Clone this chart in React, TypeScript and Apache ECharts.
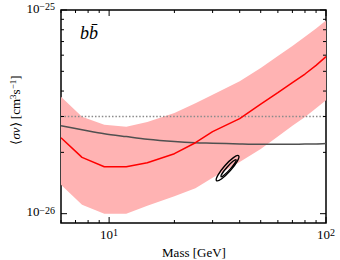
import React, { useEffect, useRef } from "react";
import * as echarts from "echarts";

// ---- data ----
const massGeV = [6, 7.5, 9.5, 12, 15, 20, 25, 30, 40, 50, 60, 70, 80, 90, 100];
const limitLine = [2.36e-26, 1.89e-26, 1.7e-26, 1.7e-26, 1.78e-26, 1.97e-26, 2.23e-26, 2.53e-26, 2.93e-26, 3.45e-26, 3.93e-26, 4.4e-26, 4.85e-26, 5.35e-26, 5.9e-26];
const bandUpper = [3.75e-26, 2.99e-26, 2.73e-26, 2.67e-26, 2.82e-26, 3.12e-26, 3.48e-26, 3.84e-26, 4.47e-26, 5.19e-26, 5.94e-26, 6.66e-26, 7.38e-26, 8.12e-26, 8.88e-26];
const bandLower = [1.388e-26, 1.107e-26, 1.0e-26, 1.0e-26, 1.095e-26, 1.217e-26, 1.334e-26, 1.5e-26, 1.794e-26, 2.078e-26, 2.396e-26, 2.7e-26, 2.98e-26, 3.29e-26, 3.6e-26];
const grayCurve = [2.7e-26, 2.585e-26, 2.47e-26, 2.39e-26, 2.32e-26, 2.26e-26, 2.23e-26, 2.22e-26, 2.2e-26, 2.19e-26, 2.19e-26, 2.19e-26, 2.2e-26, 2.2e-26, 2.21e-26];
const thermalRelic = 3e-26;

// contour ellipses: tips of the major axis (outer, inner)
const contourTipLow = [[31.28, 1.452e-26], [32.83, 1.52e-26]];
const contourTipHigh = [[39.55, 1.926e-26], [38.5, 1.841e-26]];
const contourAspect = [0.22, 0.16];

const xMajorTicks = [10, 100];
const xMinorTicks = [6, 7, 8, 9, 20, 30, 40, 50, 60, 70, 80, 90];
const yMajorTicks = [1e-26, 1e-25];
const yMinorTicks = [2e-26, 3e-26, 4e-26, 5e-26, 6e-26, 7e-26, 8e-26, 9e-26];
const xLabelValues = [10, 100];
const xLabelExps = ["1", "2"];
const yLabelValues = [1e-26, 1e-25];
const yLabelExps = ["\u221226", "\u221225"];

const X_MIN = 6;
const X_MAX = 100;
const Y_MIN = 9e-27;
const Y_MAX = 1e-25;

const SERIF = "Liberation Serif";

const richPow = {
  b: { fontSize: 13, fontFamily: SERIF, lineHeight: 13, verticalAlign: "bottom", color: "#000" },
  e: { fontSize: 10, fontFamily: SERIF, lineHeight: 10, verticalAlign: "top", padding: [0, 0, 7, 0], color: "#000" },
};

export default function App() {
  const ref = useRef<HTMLDivElement>(null);

  useEffect(() => {
    const chart = echarts.init(ref.current as HTMLDivElement, null, { renderer: "svg" });

    const tickSeries = (vals: number[], major: boolean, axis: "x" | "y") => ({
      type: "custom",
      silent: true,
      z: 6,
      data: vals.map((v) => (axis === "x" ? [v, Y_MIN] : [X_MIN, v])),
      renderItem: (params: any, api: any) => {
        const len = major ? 6 : 3;
        const st = { stroke: "#000", lineWidth: 1 };
        if (axis === "x") {
          const v = api.value(0);
          const b = api.coord([v, Y_MIN]);
          const t = api.coord([v, Y_MAX]);
          return {
            type: "group",
            children: [
              { type: "line", shape: { x1: b[0], y1: b[1], x2: b[0], y2: b[1] - len }, style: st },
              { type: "line", shape: { x1: t[0], y1: t[1], x2: t[0], y2: t[1] + len }, style: st },
            ],
          };
        }
        const v = api.value(1);
        const l = api.coord([X_MIN, v]);
        const r = api.coord([X_MAX, v]);
        return {
          type: "group",
          children: [
            { type: "line", shape: { x1: l[0], y1: l[1], x2: l[0] + len, y2: l[1] }, style: st },
            { type: "line", shape: { x1: r[0], y1: r[1], x2: r[0] - len, y2: r[1] }, style: st },
          ],
        };
      },
    });

    const option: any = {
      animation: false,
      textStyle: { fontFamily: SERIF },
      grid: {
        left: 61,
        right: 14,
        top: 10,
        bottom: 37,
        show: true,
        borderColor: "#000",
        borderWidth: 1.5,
        backgroundColor: "transparent",
      },
      xAxis: {
        type: "log",
        min: X_MIN,
        max: X_MAX,
        axisLine: { show: false },
        axisTick: { show: false },
        axisLabel: { show: false },
        splitLine: { show: false },
      },
      yAxis: {
        type: "log",
        min: Y_MIN,
        max: Y_MAX,
        axisLine: { show: false },
        axisTick: { show: false },
        axisLabel: { show: false },
        splitLine: { show: false },
      },
      series: [
        {
          type: "custom",
          silent: true,
          z: 1,
          data: [[massGeV[0], bandUpper[0]]],
          renderItem: (params: any, api: any) => {
            const pts: number[][] = [];
            for (let i = 0; i < massGeV.length; i++) pts.push(api.coord([massGeV[i], bandUpper[i]]));
            for (let i = massGeV.length - 1; i >= 0; i--) pts.push(api.coord([massGeV[i], bandLower[i]]));
            return { type: "polygon", shape: { points: pts }, style: { fill: "#ffb3b3", stroke: "none" } };
          },
        },
        {
          type: "line",
          z: 3,
          data: [[X_MIN, thermalRelic], [X_MAX, thermalRelic]],
          showSymbol: false,
          symbol: "none",
          lineStyle: { color: "#8a8a8a", width: 1.5, type: [1.5, 1.9] },
        },
        {
          type: "line",
          z: 3,
          data: massGeV.map((m, i) => [m, grayCurve[i]]),
          showSymbol: false,
          symbol: "none",
          smooth: 0.3,
          lineStyle: { color: "#505050", width: 1.5 },
        },
        {
          type: "line",
          z: 4,
          data: massGeV.map((m, i) => [m, limitLine[i]]),
          showSymbol: false,
          symbol: "none",
          lineStyle: { color: "#ff0000", width: 1.5 },
        },
        {
          type: "custom",
          silent: true,
          z: 5,
          data: contourTipLow.map((p, i) => [p[0], p[1], contourTipHigh[i][0], contourTipHigh[i][1]]),
          renderItem: (params: any, api: any) => {
            const i = params.dataIndex;
            const p1 = api.coord([api.value(0), api.value(1)]);
            const p2 = api.coord([api.value(2), api.value(3)]);
            const cx = (p1[0] + p2[0]) / 2;
            const cy = (p1[1] + p2[1]) / 2;
            const a = Math.hypot(p2[0] - p1[0], p2[1] - p1[1]) / 2;
            const ang = Math.atan2(p2[1] - p1[1], p2[0] - p1[0]);
            return {
              type: "ellipse",
              x: cx,
              y: cy,
              rotation: -ang,
              shape: { cx: 0, cy: 0, rx: a, ry: a * contourAspect[i] },
              style: { fill: "none", stroke: "#000", lineWidth: 1.4 },
            };
          },
        },
        tickSeries(xMajorTicks, true, "x"),
        tickSeries(xMinorTicks, false, "x"),
        tickSeries(yMajorTicks, true, "y"),
        tickSeries(yMinorTicks, false, "y"),
        {
          type: "custom",
          silent: true,
          z: 6,
          data: xLabelValues.map((v) => [v, Y_MIN]),
          renderItem: (params: any, api: any) => {
            const p = api.coord([api.value(0), Y_MIN]);
            return {
              type: "text",
              x: p[0],
              y: p[1] + 11,
              style: {
                text: "{b|10}{e|" + xLabelExps[params.dataIndex] + "}",
                rich: richPow,
                fontFamily: SERIF,
                align: "center",
                verticalAlign: "middle",
                fill: "#000",
              },
            };
          },
        },
        {
          type: "custom",
          silent: true,
          z: 6,
          data: yLabelValues.map((v) => [X_MIN, v]),
          renderItem: (params: any, api: any) => {
            const p = api.coord([X_MIN, api.value(1)]);
            return {
              type: "text",
              x: p[0] - 6,
              y: p[1] - 2,
              style: {
                text: "{b|10}{e|" + yLabelExps[params.dataIndex] + "}",
                rich: richPow,
                fontFamily: SERIF,
                align: "right",
                verticalAlign: "middle",
                fill: "#000",
              },
            };
          },
        },
      ],
      graphic: [
        {
          type: "text",
          x: 194,
          y: 252,
          style: {
            text: "Mass [GeV]",
            fontSize: 13,
            fontFamily: SERIF,
            fill: "#000",
            align: "center",
            verticalAlign: "middle",
          },
        },
        {
          type: "text",
          x: 15,
          y: 110,
          rotation: Math.PI / 2,
          style: {
            text: "{n|\u27e8}{i|\u03c3v}{n|\u27e9 [cm}{s|3}{n|s}{s|\u22121}{n|]}",
            fontFamily: SERIF,
            rich: {
              n: { fontSize: 13, fontFamily: SERIF, lineHeight: 13, verticalAlign: "bottom", color: "#000" },
              i: { fontSize: 13, fontFamily: SERIF, fontStyle: "italic", lineHeight: 13, verticalAlign: "bottom", color: "#000" },
              s: { fontSize: 9, fontFamily: SERIF, lineHeight: 9, verticalAlign: "top", padding: [0, 0, 6, 0], color: "#000" },
            },
            align: "center",
            verticalAlign: "middle",
          },
        },
        {
          type: "text",
          x: 80,
          y: 33,
          style: {
            text: "bb\u0304",
            fontSize: 18,
            fontStyle: "italic",
            fontFamily: SERIF,
            fill: "#000",
            align: "left",
            verticalAlign: "middle",
          },
        },
      ],
    };

    chart.setOption(option);
    return () => chart.dispose();
  }, []);

  return <div ref={ref} style={{ width: 340, height: 260, position: "absolute", left: 0, top: 0 }} />;
}
